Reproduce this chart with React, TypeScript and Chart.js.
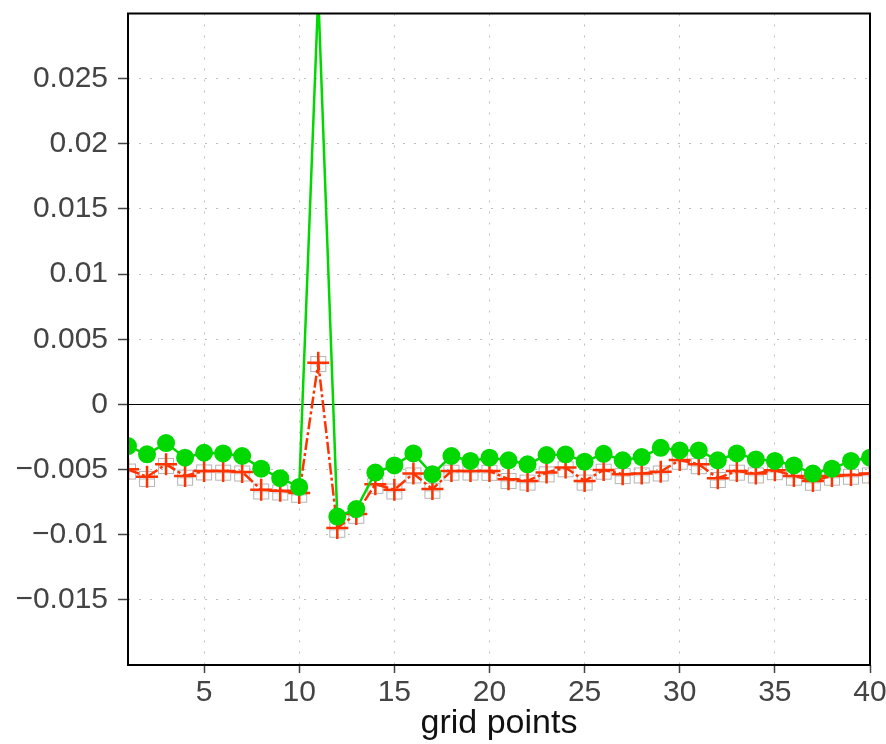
import React, { useEffect, useRef } from "react";
import { Chart, registerables } from "chart.js";

Chart.register(...registerables);

const GRID_POINTS = Array.from({ length: 40 }, (_, i) => i + 1);

const GREEN_VALUES = [
  -0.0032, -0.00383, -0.00297, -0.00409, -0.00371, -0.00376, -0.00396, -0.00493, -0.00566, -0.00633,
  0.0315, -0.00861, -0.00803, -0.00523, -0.00468, -0.00376, -0.00536, -0.00396, -0.00434, -0.00409,
  -0.00429, -0.0046, -0.00389, -0.00384, -0.0044, -0.00379, -0.00429, -0.00404, -0.00333, -0.00353,
  -0.00353, -0.00429, -0.00376, -0.00422, -0.00434, -0.00468, -0.00531, -0.00493, -0.00434, -0.00409,
];

const RED_VALUES = [
  -0.00498, -0.00556, -0.0046, -0.00549, -0.00511, -0.00511, -0.00518, -0.00655, -0.00663, -0.0068,
  0.0032, -0.00948, -0.00841, -0.00612, -0.00655, -0.00531, -0.0065, -0.00511, -0.00511, -0.00511,
  -0.00574, -0.00587, -0.00523, -0.00485, -0.00587, -0.00503, -0.00536, -0.00531, -0.00516, -0.00427,
  -0.0046, -0.00566, -0.00511, -0.00531, -0.00506, -0.00549, -0.00587, -0.00549, -0.00541, -0.00531,
];

const GREY_VALUES = [
  -0.00515, -0.00572, -0.00472, -0.00562, -0.00522, -0.00524, -0.0053, -0.00668, -0.00676, -0.00693,
  0.0031, -0.00962, -0.00855, -0.00625, -0.00668, -0.00545, -0.00663, -0.00524, -0.00523, -0.00525,
  -0.00588, -0.006, -0.00537, -0.00498, -0.006, -0.00516, -0.0055, -0.00545, -0.0053, -0.0044,
  -0.00474, -0.0058, -0.00524, -0.00545, -0.0052, -0.00562, -0.00601, -0.00562, -0.00555, -0.00545,
];

const X_TICKS = [5, 10, 15, 20, 25, 30, 35, 40];
const Y_TICKS = [-0.015, -0.01, -0.005, 0, 0.005, 0.01, 0.015, 0.02, 0.025];
const Y_TICK_LABELS = ["\u22120.015", "\u22120.01", "\u22120.005", "0", "0.005", "0.01", "0.015", "0.02", "0.025"];
const X_TITLE = "grid points";

function makeSquareMarker(): HTMLCanvasElement {
  const c = document.createElement("canvas");
  c.width = 18;
  c.height = 18;
  const g = c.getContext("2d")!;
  g.strokeStyle = "#b4b4b4";
  g.lineWidth = 1;
  g.strokeRect(1.5, 1.5, 15, 15);
  g.beginPath();
  g.moveTo(9, 1.5);
  g.lineTo(9, 16.5);
  g.moveTo(1.5, 9);
  g.lineTo(16.5, 9);
  g.stroke();
  return c;
}

const framePlugin = {
  id: "frame",
  beforeDatasetsDraw(chart: any) {
    const { ctx, chartArea, scales } = chart;
    const y0 = scales.y.getPixelForValue(0);
    ctx.save();
    ctx.strokeStyle = "#000";
    ctx.lineWidth = 1;
    ctx.beginPath();
    ctx.moveTo(chartArea.left, Math.round(y0) + 0.5);
    ctx.lineTo(chartArea.right, Math.round(y0) + 0.5);
    ctx.stroke();
    ctx.restore();
  },
  afterDatasetsDraw(chart: any) {
    const { ctx, chartArea } = chart;
    ctx.save();
    ctx.strokeStyle = "#000";
    ctx.lineWidth = 2;
    ctx.strokeRect(chartArea.left, chartArea.top, chartArea.right - chartArea.left, chartArea.bottom - chartArea.top);
    ctx.restore();
  },
};

export default function App() {
  const ref = useRef<HTMLCanvasElement>(null);

  useEffect(() => {
    if (!ref.current) return;
    const marker = makeSquareMarker();
    const toPts = (vals: number[]) => vals.map((v, i) => ({ x: GRID_POINTS[i], y: v }));
    const tickFont = { family: "'Liberation Sans', Arial, sans-serif", size: 30 };
    const chart = new Chart(ref.current, {
      type: "line",
      data: {
        datasets: [
          {
            data: toPts(GREEN_VALUES),
            borderColor: "#00d800",
            backgroundColor: "#00d800",
            borderWidth: 2.5,
            pointStyle: "circle",
            pointRadius: 8,
            pointBorderWidth: 2,
            clip: 0,
          },
          {
            data: toPts(RED_VALUES),
            borderColor: "#ff3300",
            backgroundColor: "#ff3300",
            borderWidth: 2.5,
            borderDash: [12, 3, 3, 3],
            pointStyle: "cross",
            pointRadius: 11,
            pointBorderWidth: 2.5,
            clip: 0,
          },
          {
            data: toPts(GREY_VALUES),
            showLine: false,
            pointStyle: marker as any,
            pointRadius: 9,
            clip: 0,
          },
        ],
      },
      options: {
        responsive: false,
        animation: false,
        events: [],
        layout: { padding: { left: 0, right: 16, top: 10, bottom: 0 } },
        plugins: { legend: { display: false }, tooltip: { enabled: false } },
        scales: {
          x: {
            type: "linear",
            min: 1,
            max: 40,
            afterBuildTicks: (s: any) => {
              s.ticks = X_TICKS.map((v) => ({ value: v }));
            },
            afterFit: (s: any) => {
              s.height = 79;
              s.paddingLeft = 0;
              s.paddingRight = 0;
            },
            grid: {
              color: "#bdbdbd",
              lineWidth: 1,
              tickLength: 8,
              tickColor: "#444",
              tickWidth: 1.5,
            },
            border: { display: false, dash: [2, 9] },
            ticks: {
              font: tickFont,
              color: "#444",
              padding: 2,
              maxRotation: 0,
              autoSkip: false,
              callback: (v: any) => String(v),
            },
            title: {
              display: true,
              text: X_TITLE,
              font: { family: "'Liberation Sans', Arial, sans-serif", size: 34 },
              color: "#111",
              padding: { top: 0, bottom: 0 },
            },
          },
          y: {
            type: "linear",
            min: -0.02,
            max: 0.03,
            afterBuildTicks: (s: any) => {
              s.ticks = Y_TICKS.map((v) => ({ value: v }));
            },
            afterFit: (s: any) => {
              s.width = 128;
              s.paddingTop = 0;
              s.paddingBottom = 0;
            },
            grid: {
              color: "#bdbdbd",
              lineWidth: 1,
              tickLength: 10,
              tickColor: "#444",
              tickWidth: 1.5,
            },
            border: { display: false, dash: [2, 9] },
            ticks: {
              font: tickFont,
              color: "#444",
              padding: 10,
              autoSkip: false,
              callback: (_v: any, i: number) => Y_TICK_LABELS[i],
            },
          },
        },
      },
      plugins: [framePlugin],
    });
    return () => chart.destroy();
  }, []);

  return (
    <canvas
      ref={ref}
      width={886}
      height={744}
      style={{ position: "absolute", left: 0, top: 0, display: "block", width: 886, height: 744 }}
    />
  );
}
